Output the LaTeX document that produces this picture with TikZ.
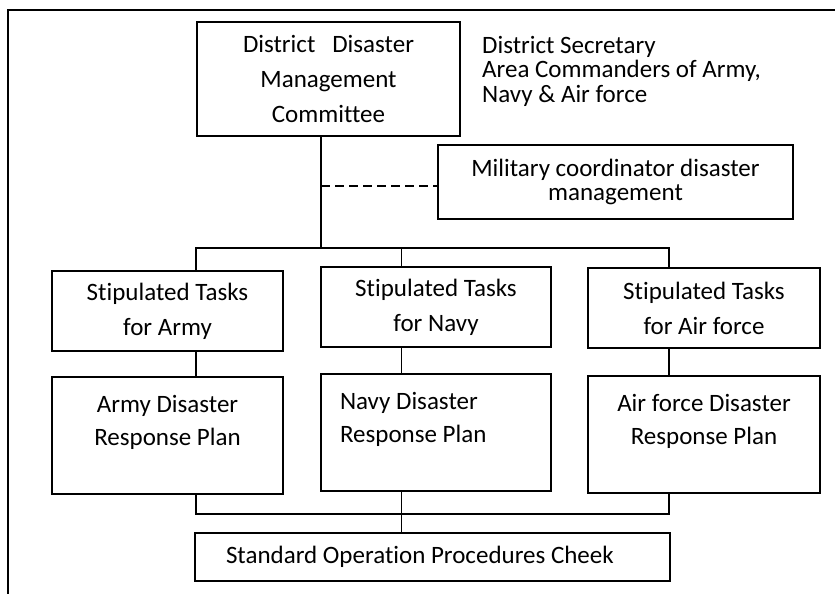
\documentclass[tikz,border=0pt]{standalone}
\usepackage{fontspec}
\setmainfont{Carlito}[Ligatures=NoCommon]
\usetikzlibrary{positioning}
\newcommand{\plantxt}[2]{\parbox[c][81pt][t]{230pt}{#1 #2}}

\begin{document}
\begin{tikzpicture}[x=1pt,y=-1pt,
  blk/.style={draw,line width=2pt,align=center,inner sep=0pt,
              font=\fontsize{25}{35}\selectfont},
  plan/.style={blk,minimum width=231pt,minimum height=117pt,
              font=\fontsize{25}{33}\selectfont},
  link/.style={line width=1.6pt}]
\useasboundingbox (0,0) rectangle (835,594);
\draw[line width=2pt] (8,594) -- (8,10) -- (835,10);
\node (ddmc) [blk,minimum width=263pt,minimum height=114pt] at (328.5,79)
      {District\ \ \ Disaster\\ Management\\ Committee};
\node (members) [anchor=north west,align=left,inner sep=0pt,
      font=\fontsize{25}{24.5}\selectfont] at (482,36)
      {District Secretary\\ Area Commanders of Army,\\ Navy \& Air force};
\node (milco) [blk,minimum width=355pt,minimum height=74pt,
      font=\fontsize{25}{24.5}\selectfont] at (615.5,182)
      {Military coordinator disaster\\ management};
\node (armytasks) [blk,minimum width=231pt,minimum height=80pt] at (167.5,311)
      {Stipulated Tasks\\ for Army};
\node (navytasks) [blk,minimum width=230pt,minimum height=80pt] at (436,307)
      {Stipulated Tasks\\ for Navy};
\node (airtasks) [blk,minimum width=232pt,minimum height=80pt] at (704,308)
      {Stipulated Tasks\\ for Air force};
\node (armyplan) [plan,below=24pt of armytasks]
      {\plantxt{\centering}{Army Disaster\\ Response Plan}};
\node (navyplan) [plan,minimum width=230pt,below=25pt of navytasks]
      {\plantxt{\raggedright\leftskip=19pt}{Navy Disaster\\ Response Plan}};
\node (airplan) [plan,minimum width=232pt,below=26pt of airtasks]
      {\plantxt{\centering}{Air force Disaster\\ Response Plan}};
\node (sop) [blk,minimum height=48pt,text width=413pt,inner xsep=31pt,
      align=flush left] at (432.5,557)
      {Standard Operation Procedures Cheek};
\coordinate (trunk) at (321,186);
\coordinate (fork) at (321,248);
\coordinate (bus) at (0,514);
\coordinate (colA) at (196,0);
\coordinate (colN) at (401.5,0);
\coordinate (colF) at (669,0);
\draw[link] (ddmc.south -| trunk) -- (fork);
\draw[link,dashed,dash pattern=on 9pt off 5pt] (trunk) -- (trunk -| milco.west);
\draw[link] (armytasks.north -| colA) -- (colA |- fork) -- (colF |- fork)
      -- (airtasks.north -| colF);
\draw[link] (navytasks.north -| colN) -- (colN |- fork);
\draw[link] (armytasks.south -| colA) -- (armyplan.north -| colA);
\draw[link] (navytasks.south -| colN) -- (navyplan.north -| colN);
\draw[link] (airtasks.south -| colF) -- (airplan.north -| colF);
\draw[link] (armyplan.south -| colA) -- (colA |- bus) -- (colF |- bus)
      -- (airplan.south -| colF);
\draw[link] (navyplan.south -| colN) -- (sop.north -| colN);
\end{tikzpicture}
\end{document}
